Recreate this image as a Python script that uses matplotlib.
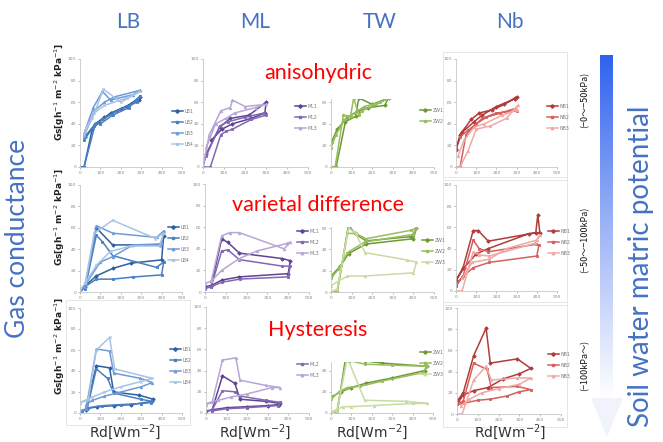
import numpy as np
import matplotlib.pyplot as plt
from matplotlib.lines import Line2D
from matplotlib.patches import Polygon, Rectangle
from matplotlib.colors import LinearSegmentedColormap

W, H = 663, 442

# ---- values: Rd [W m-2] (x) and Gs (y), one list per series ----
cultivars = ['LB', 'ML', 'TW', 'Nb']
row_notes = ['anisohydric', 'varietal difference', 'Hysteresis']
potentials = ['(\u22120\u301c\u221250kPa)', '(\u221250\u301c\u2212100kPa)', '(\u2212100kPa\u301c)']

# row 1 : anisohydric
lb_r1_x = [[0, 20, 60, 95, 150, 230, 295, 290, 200, 120, 75, 25],
           [0, 20, 75, 100, 160, 240, 295, 280, 180, 110, 70, 20],
           [20, 70, 120, 170, 295, 260, 150, 110, 65, 20],
           [20, 60, 115, 200, 295, 230, 120, 70, 25]]
lb_r1_y = [[0, 0, 35, 42, 50, 56, 65, 62, 54, 46, 40, 28],
           [0, 0, 40, 40, 48, 55, 66, 60, 52, 44, 38, 25],
           [28, 52, 60, 65, 71, 67, 62, 70, 55, 31],
           [30, 45, 72, 60, 70, 64, 57, 50, 34]]
ml_r1_x = [[0, 15, 80, 130, 220, 300, 295, 230, 140, 90, 40],
           [0, 35, 85, 110, 140, 230, 300, 290, 200, 120, 80, 15],
           [0, 30, 85, 130, 140, 200, 300, 250, 150, 110, 60, 15]]
ml_r1_y = [[0, 12, 37, 45, 48, 60, 50, 45, 40, 35, 25],
           [0, 0, 30, 33, 35, 44, 48, 50, 46, 42, 38, 10],
           [0, 30, 52, 55, 62, 56, 58, 55, 50, 45, 40, 18]]
tw_r1_x = [[0, 25, 70, 120, 135, 200, 280, 260, 180, 130, 80, 30, 0],
           [0, 20, 60, 95, 110, 135, 150, 220, 280, 240, 160, 115, 65, 25, 0]]
tw_r1_y = [[0, 0, 42, 47, 64, 58, 64, 57, 55, 52, 46, 35, 22],
           [0, 0, 48, 47, 64, 48, 52, 58, 64, 60, 56, 50, 44, 30, 18]]
nb_r1_x = [[0, 20, 75, 115, 180, 240, 300, 290, 200, 130, 90, 30, 0],
           [0, 20, 50, 90, 130, 200, 300, 290, 220, 150, 100, 60, 20],
           [0, 20, 60, 100, 170, 250, 305, 300, 230, 140, 90, 40, 10]]
nb_r1_y = [[16, 30, 44, 50, 53, 58, 65, 63, 56, 48, 42, 32, 17],
           [0, 0, 30, 38, 45, 50, 52, 54, 50, 46, 40, 34, 28],
           [0, 0, 15, 35, 38, 45, 57, 53, 48, 40, 37, 25, 10]]

# row 2 : varietal difference
lb_r2_x = [[0, 25, 80, 160, 390, 410, 400, 250, 160, 80, 20],
           [0, 25, 80, 110, 160, 375, 410, 400, 260, 160, 80, 25],
           [0, 25, 80, 160, 375, 410, 400, 260, 160, 100, 30],
           [0, 25, 70, 160, 370, 410, 390, 250, 150, 80, 25]]
lb_r2_y = [[2, 5, 60, 44, 44, 52, 30, 27, 22, 15, 5],
           [2, 3, 53, 47, 34, 23, 28, 16, 14, 12, 12, 5],
           [2, 5, 62, 55, 51, 57, 45, 44, 33, 28, 8],
           [2, 8, 55, 67, 50, 55, 43, 43, 38, 25, 8]]
ml_r2_x = [[0, 30, 80, 110, 165, 370, 410, 400, 165, 80, 30],
           [0, 30, 80, 110, 165, 370, 410, 400, 170, 80, 30],
           [0, 30, 80, 120, 165, 380, 410, 395, 250, 165, 80, 30]]
ml_r2_y = [[5, 6, 49, 46, 36, 31, 29, 17, 14, 11, 6],
           [3, 5, 38, 39, 30, 24, 24, 14, 12, 9, 5],
           [8, 10, 52, 55, 55, 40, 46, 45, 38, 31, 20, 10]]
tw_r2_x = [[0, 30, 85, 115, 170, 390, 415, 400, 170, 85, 45, 0],
           [0, 30, 80, 120, 170, 390, 415, 400, 165, 80, 40, 0],
           [0, 30, 85, 120, 165, 370, 415, 400, 165, 80, 0]]
tw_r2_y = [[0, 0, 63, 55, 48, 52, 60, 50, 45, 36, 24, 15],
           [0, 0, 55, 55, 50, 58, 60, 54, 47, 37, 22, 13],
           [0, 3, 60, 55, 37, 30, 28, 18, 15, 15, 6]]
nb_r2_x = [[0, 35, 85, 110, 160, 395, 405, 415, 360, 160, 100, 40, 0],
           [0, 35, 85, 115, 160, 395, 410, 400, 165, 85, 30, 0],
           [0, 30, 85, 115, 165, 390, 415, 400, 250, 165, 80, 30]]
nb_r2_y = [[10, 22, 57, 57, 47, 55, 72, 55, 54, 40, 35, 22, 10],
           [5, 14, 48, 40, 37, 44, 43, 33, 27, 22, 13, 5],
           [0, 0, 37, 34, 33, 45, 53, 48, 40, 30, 27, 12]]

# row 3 : hysteresis
lb_r3_x = [[0, 28, 80, 145, 165, 290, 360, 355, 250, 165, 85, 30],
           [10, 35, 80, 135, 165, 300, 355, 350, 300, 200, 110, 40],
           [0, 30, 80, 145, 165, 295, 355, 300, 200, 120, 60, 30],
           [0, 40, 80, 145, 170, 355, 300, 200, 120, 60, 0]]
lb_r3_y = [[2, 3, 45, 43, 20, 17, 13, 11, 8, 7, 6, 4],
           [2, 4, 42, 33, 19, 13, 11, 10, 9, 8, 7, 5],
           [2, 4, 61, 59, 38, 33, 29, 25, 20, 16, 12, 8],
           [10, 12, 60, 72, 42, 33, 30, 25, 20, 15, 10]]
ml_r3_x = [[0, 30, 80, 140, 165, 290, 360, 355, 300, 200, 100, 30],
           [0, 30, 80, 140, 165, 290, 360, 350, 200, 100, 30],
           [0, 30, 80, 145, 165, 290, 360, 320, 200, 120, 60, 0]]
ml_r3_y = [[2, 3, 35, 28, 13, 11, 9, 8, 7, 6, 5, 3],
           [1, 3, 21, 20, 16, 12, 10, 7, 5, 4, 2],
           [8, 10, 50, 52, 31, 26, 24, 24, 18, 15, 12, 9]]
tw_r3_x = [[0, 30, 70, 90, 165, 250, 470, 460, 300, 170, 100, 50, 0],
           [0, 30, 75, 165, 300, 470, 450, 250, 140, 80, 40, 0],
           [0, 30, 80, 165, 370, 470, 400, 210, 100, 60, 0]]
tw_r3_y = [[0, 0, 50, 49, 49, 47, 44, 40, 33, 28, 24, 20, 15],
           [0, 3, 50, 46, 45, 44, 38, 30, 25, 24, 20, 13],
           [0, 2, 52, 12, 11, 9, 9, 7, 6, 6, 1]]
nb_r3_x = [[0, 30, 80, 140, 160, 290, 355, 300, 220, 150, 80, 30, 0],
           [0, 30, 80, 145, 165, 290, 355, 300, 240, 160, 100, 30, 0],
           [0, 25, 80, 140, 165, 290, 355, 300, 200, 120, 60, 20]]
nb_r3_y = [[12, 20, 55, 81, 48, 52, 43, 38, 33, 25, 22, 18, 9],
           [10, 12, 48, 42, 25, 26, 23, 21, 17, 14, 13, 10, 9],
           [0, 0, 32, 45, 32, 34, 34, 28, 24, 20, 14, 8]]

lb_names = ['LB1', 'LB2', 'LB3', 'LB4']
ml_names_r12 = ['ML1', 'ML2', 'ML3']
ml_names_r3 = ['', 'ML2', 'ML3']
zw_names_r1 = ['ZW1', 'ZW2']
zw_names = ['ZW1', 'ZW2', 'ZW3']
nb_names = ['NB1', 'NB2', 'NB3']

lb_colors = ['#2f5f9e', '#4a7fc0', '#6f9bd6', '#a9c3e6']
ml_colors = ['#5e4592', '#8466b4', '#b7a6d6']
zw_colors = ['#6d9a35', '#98bd5e', '#c9dba3']
nb_colors = ['#b23b3b', '#d6605c', '#efa9a6']
markers = ['D', 's', '^', 'x']


def box(x0, y0, x1, y1):
    # pixel box -> figure fraction
    return [x0 / W, 1 - y1 / H, (x1 - x0) / W, (y1 - y0) / H]


def fx(x):
    return x / W


def fy(y):
    return 1 - y / H


def panel(fig, rect, xs, ys, names, colors, ytop, leg_xy):
    ax = fig.add_axes(box(*rect))
    handles = []
    for i in range(len(xs)):
        ax.plot(xs[i], ys[i], color=colors[i], lw=1.1, marker=markers[i],
                ms=1.8, mew=0.6, clip_on=True)
        if names[i]:
            handles.append(Line2D([], [], color=colors[i], lw=1.1, marker=markers[i],
                                  ms=1.8, label=names[i]))
    ax.set_xlim(0, 500)
    ax.set_ylim(0, ytop)
    ax.set_xticks(range(0, 501, 100))
    ax.set_yticks([t for t in range(0, 101, 20) if t <= ytop])
    ax.tick_params(labelsize=3.2, colors='#888888', length=1.2, width=0.4, pad=1.5)
    for s in ['top', 'right']:
        ax.spines[s].set_visible(False)
    for s in ['left', 'bottom']:
        ax.spines[s].set_color('#c8c8c8')
        ax.spines[s].set_linewidth(0.6)
    ax.patch.set_alpha(0)
    leg = ax.legend(handles=handles, loc='upper left', frameon=False,
                    bbox_to_anchor=(fx(leg_xy[0]), fy(leg_xy[1] - 3)),
                    bbox_transform=fig.transFigure, fontsize=3.4,
                    handlelength=2.3, handletextpad=0.3, labelspacing=1.25,
                    borderpad=0, borderaxespad=0)
    for t in leg.get_texts():
        t.set_color('#777777')
    return ax


fig = plt.figure(figsize=(W / 100, H / 100), dpi=100)
fig.patch.set_facecolor('white')

# light chart-area frames from the pasted excel charts
ov = fig.add_axes([0, 0, 1, 1])
ov.set_axis_off()
ov.patch.set_alpha(0)
for (x0, y0, x1, y1) in [(443, 52, 567, 180), (443, 177, 567, 305), (443, 302, 567, 427),
                         (66, 300, 190, 425)]:
    ov.add_patch(Rectangle((x0, y0), x1 - x0, y1 - y0, fill=False,
                           ec='#e6e6e6', lw=0.7))

# gradient arrow for soil water matric potential
cmap = LinearSegmentedColormap.from_list('pot', ['#2f62ee', '#9db4f6', '#ffffff'])
grad = np.linspace(0, 1, 256).reshape(-1, 1)
ov.imshow(grad, cmap=cmap, extent=(600, 613, 398, 55), aspect='auto', origin='upper')
ov.add_patch(Polygon([(591, 398), (623, 398), (607, 437)], closed=True,
                     fc='#f1f3fc', ec='none'))
ov.set_xlim(0, W)
ov.set_ylim(H, 0)

# panels
panel(fig, (80, 59, 182, 167), lb_r1_x, lb_r1_y, lb_names, lb_colors, 100, (172, 112))
panel(fig, (203, 59, 308, 167), ml_r1_x, ml_r1_y, ml_names_r12, ml_colors, 100, (295, 107))
panel(fig, (331, 99, 434, 167), tw_r1_x, tw_r1_y, zw_names_r1, zw_colors, 63, (420, 111))
panel(fig, (456, 59, 557, 167), nb_r1_x, nb_r1_y, nb_names, nb_colors, 100, (547, 107))

panel(fig, (80, 185, 182, 292), lb_r2_x, lb_r2_y, lb_names, lb_colors, 100, (168, 228))
panel(fig, (205, 184, 309, 292), ml_r2_x, ml_r2_y, ml_names_r12, ml_colors, 100, (297, 232))
panel(fig, (331, 227, 434, 292), tw_r2_x, tw_r2_y, zw_names, zw_colors, 61, (422, 241))
panel(fig, (456, 185, 557, 291), nb_r2_x, nb_r2_y, nb_names, nb_colors, 100, (548, 232))

panel(fig, (80, 308, 182, 413), lb_r3_x, lb_r3_y, lb_names, lb_colors, 100, (170, 350))
panel(fig, (206, 307, 309, 413), ml_r3_x, ml_r3_y, ml_names_r3, ml_colors, 100, (297, 365))
panel(fig, (331, 362, 433, 413), tw_r3_x, tw_r3_y, zw_names, zw_colors, 48, (420, 353))
panel(fig, (457, 308, 561, 414), nb_r3_x, nb_r3_y, nb_names, nb_colors, 100, (548, 355))

blue = '#4472c4'
big = ['Lato', 'DejaVu Sans']
cjk = ['Noto Sans CJK JP', 'DejaVu Sans']

# column titles
for name, x in zip(cultivars, [128, 255, 380, 510]):
    fig.text(fx(x), fy(22), name, color=blue, fontsize=15, family=big,
             ha='center', va='center')

fig.text(fx(18), fy(238), 'Gas conductance', color=blue, fontsize=19, family=big,
         rotation=90, ha='center', va='center')
fig.text(fx(641), fy(266), 'Soil water matric potential', color=blue, fontsize=20,
         family=big, rotation=90, ha='center', va='center')

for note, y in zip(row_notes, [73, 205, 330]):
    fig.text(fx(318), fy(y), note, color='#ff0000', fontsize=15.5, family=big,
             ha='center', va='center')

for pot, y in zip(potentials, [100, 240, 365]):
    fig.text(fx(585), fy(y), pot, color='#111111', fontsize=6.5, family=cjk,
             rotation=90, ha='center', va='center')

gs = r'Gs[gh$^{-1}$ m$^{-2}$ kPa$^{-1}$]'
for y in [92, 217, 346]:
    fig.text(fx(60), fy(y), gs, color='#222222', fontsize=6.5, weight='bold',
             rotation=90, ha='center', va='center')

for x in [125, 255, 372, 510]:
    fig.text(fx(x), fy(432), r'Rd[Wm$^{-2}$]', color='#333333', fontsize=10,
             ha='center', va='center')

fig.savefig('out.png', dpi=100)
